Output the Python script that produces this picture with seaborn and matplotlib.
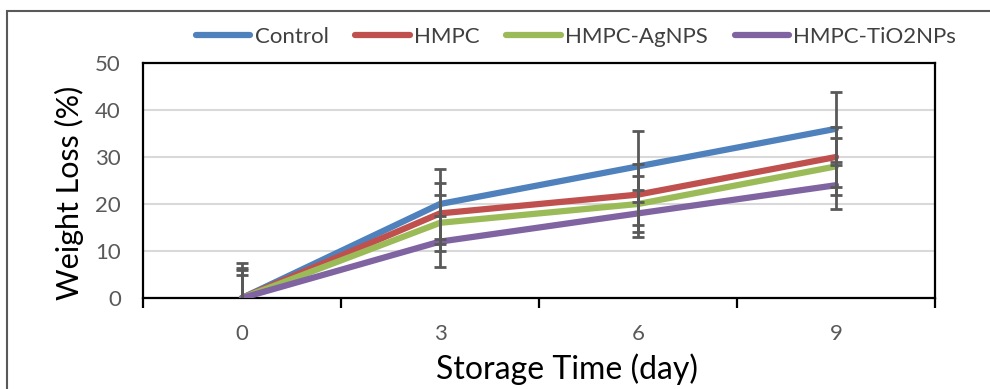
import matplotlib
matplotlib.use("Agg")
import matplotlib.pyplot as plt
import matplotlib.patches as mpatches
from matplotlib.lines import Line2D
import seaborn as sns
import pandas as pd
import numpy as np

days = [0, 3, 6, 9]
series = ["Control", "HMPC", "HMPC-AgNPS", "HMPC-TiO2NPs"]
control = [0, 20, 28, 36]
hmpc = [0, 18, 22, 30]
agnps = [0, 16, 20, 28]
tio2 = [0, 12, 18, 24]
err_control = [7.5, 7.5, 7.5, 7.8]
err_hmpc = [6.3, 6.5, 6.5, 6.3]
err_agnps = [6.0, 6.0, 6.0, 6.0]
err_tio2 = [4.8, 5.4, 5.0, 5.0]
colors = ["#4F81BD", "#C0504D", "#9BBB59", "#8064A2"]

values = [control, hmpc, agnps, tio2]
errors = [err_control, err_hmpc, err_agnps, err_tio2]

df = pd.DataFrame({
    "Day": days * 4,
    "Weight Loss": sum(values, []),
    "Series": sum([[s] * len(days) for s in series], []),
})

sns.set_theme(style="white")
plt.rcParams["font.family"] = ["Lato", "DejaVu Sans"]

fig = plt.figure(figsize=(9.9, 3.89), dpi=100)
ax = fig.add_axes([143 / 990, 1 - 298 / 389, (935 - 143) / 990, (298 - 63) / 389])

sns.lineplot(data=df, x="Day", y="Weight Loss", hue="Series", palette=colors,
             linewidth=4.5, ax=ax, legend=False, zorder=3)
for ln in ax.get_lines():
    ln.set_solid_capstyle("round")
    ln.set_solid_joinstyle("round")

for v, e in zip(values, errors):
    ax.errorbar(days, v, yerr=e, fmt="none", ecolor="#595959", elinewidth=2.0,
                capsize=4.3, capthick=2.0, zorder=4)

ax.set_xlim(-1.5, 10.5)
ax.set_ylim(0, 50)
ax.set_yticks([0, 10, 20, 30, 40, 50])
ax.set_xticks(days)
ax.set_xticklabels([str(d) for d in days])
ax.set_xticks([-1.5, 1.5, 4.5, 7.5, 10.5], minor=True)
ax.tick_params(axis="x", which="major", length=0, pad=19, labelsize=16, labelcolor="#595959")
ax.tick_params(axis="x", which="minor", length=7, width=1.6, color="black", direction="out", bottom=True)
ax.tick_params(axis="y", which="major", length=0, pad=16, labelsize=16, labelcolor="#595959")
ax.yaxis.grid(True, color="#D9D9D9", linewidth=1.5)
ax.set_axisbelow(True)
for sp in ax.spines.values():
    sp.set_visible(True)
    sp.set_color("black")
    sp.set_linewidth(1.6)

ax.set_xlabel("Storage Time (day)", fontsize=23, color="black")
ax.set_ylabel("Weight Loss (%)", fontsize=22, color="black")
ax.xaxis.set_label_coords((567 - 143) / 792, (298 - 353) / 235)
ax.yaxis.set_label_coords((84 - 143) / 792, (298 - 193) / 235)

handles = [Line2D([0], [0], color=c, linewidth=4.5, solid_capstyle="round") for c in colors]
fig.legend(handles, series, loc="center", bbox_to_anchor=(576 / 990, 1 - 37 / 389),
           ncol=4, frameon=False, fontsize=16, handlelength=2.45, handletextpad=0.2,
           columnspacing=1.2, labelcolor="#404040")

border = mpatches.Rectangle((7 / 990, -0.1), 1.2, 1 - 11 / 389 + 0.1, transform=fig.transFigure,
                            fill=False, edgecolor="#595959", linewidth=1.5, clip_on=False)
fig.patches.append(border)

fig.savefig("out.png", dpi=100)
